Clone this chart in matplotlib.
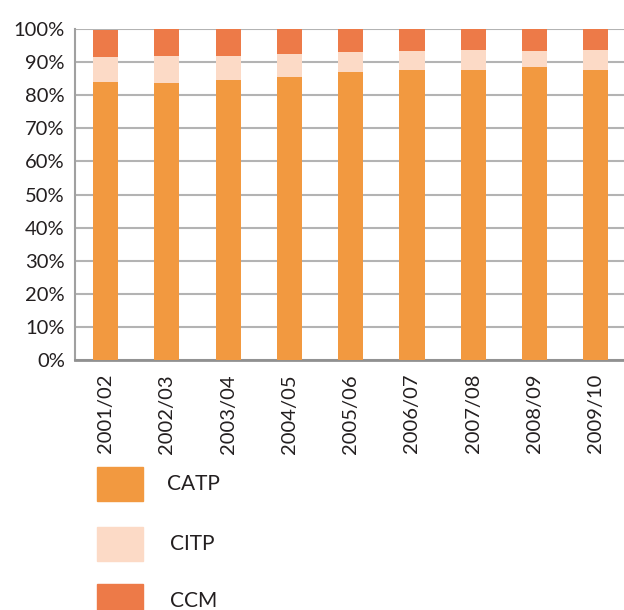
import numpy as np
import matplotlib
matplotlib.use("Agg")
import matplotlib.pyplot as plt
from matplotlib.patches import Rectangle

years = ["2001/02", "2002/03", "2003/04", "2004/05", "2005/06",
         "2006/07", "2007/08", "2008/09", "2009/10"]
catp = [84.0, 83.7, 84.6, 85.5, 87.0, 87.6, 87.6, 88.5, 87.6]
citp = [7.5, 8.1, 7.2, 6.9, 6.1, 5.8, 6.1, 4.9, 6.1]
ccm = [8.2, 8.2, 8.5, 7.6, 6.9, 6.6, 6.6, 6.6, 6.3]

c_catp = "#F29940"
c_citp = "#FCDAC6"
c_ccm = "#ED7A48"

plt.rcParams["font.family"] = ["Lato", "DejaVu Sans"]

fig = plt.figure(figsize=(6.24, 6.10), dpi=100)
ax = fig.add_axes([0.1194, 0.4098, 0.8806, 0.5426])

x = np.arange(len(years))
w = 0.41
catp_a = np.array(catp)
citp_a = np.array(citp)
ccm_a = np.array(ccm)
ax.bar(x, catp_a, w, color=c_catp, zorder=3)
ax.bar(x, citp_a, w, bottom=catp_a, color=c_citp, zorder=3)
ax.bar(x, ccm_a, w, bottom=catp_a + citp_a, color=c_ccm, zorder=3)

ax.set_xlim(-0.506, 8.46)
ax.set_ylim(0, 100)
ax.set_yticks(np.arange(0, 101, 10))
ax.set_yticklabels([f"{v}%" for v in range(0, 101, 10)], fontsize=14.5, color="#231F20")
ax.set_xticks(x)
ax.set_xticklabels(years, rotation=90, fontsize=14.5, color="#231F20")
ax.tick_params(axis="both", length=0)
ax.tick_params(axis="y", pad=7)
ax.tick_params(axis="x", pad=10)
ax.yaxis.grid(True, color="#B3B3B3", linewidth=1.5, zorder=0)
ax.set_axisbelow(True)
for s in ["top", "right"]:
    ax.spines[s].set_visible(False)
ax.spines["left"].set_color("#A0A0A0")
ax.spines["left"].set_linewidth(1.5)
ax.spines["bottom"].set_color("#909090")
ax.spines["bottom"].set_linewidth(2)

# legend drawn by hand below the chart
legend = [("CATP", c_catp, 501, 167), ("CITP", c_citp, 561, 170), ("CCM", c_ccm, 618, 170)]
for name, col, ybot, xt in legend:
    fig.add_artist(Rectangle((97 / 624, 1 - ybot / 610), 46 / 624, 34 / 610,
                             transform=fig.transFigure, color=col))
    fig.text(xt / 624, 1 - (ybot - 17) / 610, name, fontsize=15,
             va="center", ha="left", color="#231F20")

fig.savefig("out.png", dpi=100)
